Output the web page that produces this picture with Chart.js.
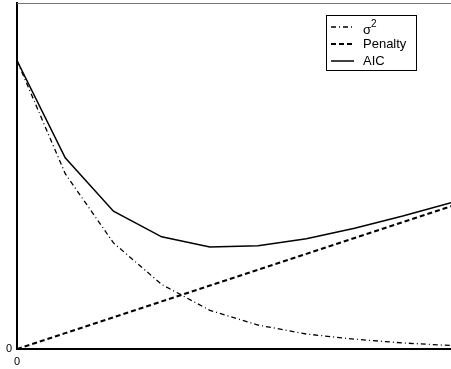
<!DOCTYPE html>
<html>
<head>
<meta charset="utf-8">
<script src="https://cdn.jsdelivr.net/npm/chart.js"></script>
<style>
  body { margin: 0; background: white; }
</style>
</head>
<body>
<canvas id="myChart" width="451" height="369"></canvas>
<script>
// model order on the x axis
var orders = [0, 1, 2, 3, 4, 5, 6, 7, 8, 9];
var sigma2 = [1.0, 0.608, 0.368, 0.224, 0.134, 0.083, 0.052, 0.034, 0.021, 0.012];
var penalty = [0, 0.055, 0.11, 0.165, 0.22, 0.275, 0.33, 0.385, 0.44, 0.495];
var aic = [1.0, 0.663, 0.478, 0.389, 0.354, 0.358, 0.382, 0.419, 0.461, 0.507];
var labels = ['σ²', 'Penalty', 'AIC'];
var xTicks = [0];
var yTicks = [0];

function pts(vals) {
    return vals.map(function (v, i) { return {x: orders[i], y: v}; });
}

var fontFam = '"Liberation Sans", Arial, sans-serif';

// legend in a box inside the plot, plus the thin frame line on top
var boxLegend = {
    id: 'boxLegend',
    afterDraw: function (chart) {
        var ctx = chart.ctx;
        var area = chart.chartArea;
        ctx.save();
        ctx.strokeStyle = '#777';
        ctx.lineWidth = 1;
        ctx.beginPath();
        ctx.moveTo(area.left, 3.5);
        ctx.lineTo(area.right, 3.5);
        ctx.stroke();

        ctx.fillStyle = 'white';
        ctx.fillRect(326.5, 15.5, 90, 55);
        ctx.strokeStyle = 'black';
        ctx.strokeRect(326.5, 15.5, 90, 55);

        ctx.textBaseline = 'middle';
        chart.data.datasets.forEach(function (ds, i) {
            var y = 27 + i * 17;
            ctx.setLineDash(ds.borderDash || []);
            ctx.lineWidth = ds.borderWidth;
            ctx.strokeStyle = 'black';
            ctx.beginPath();
            ctx.moveTo(331, y);
            ctx.lineTo(354, y);
            ctx.stroke();
            ctx.setLineDash([]);
            ctx.fillStyle = 'black';
            ctx.font = '13px ' + fontFam;
            var txt = ds.label;
            if (txt.slice(-1) === '²') {
                // draw the square as a real raised 2
                var base = txt.slice(0, -1);
                ctx.fillText(base, 363, y + 3);
                var w = ctx.measureText(base).width;
                ctx.font = '10px ' + fontFam;
                ctx.fillText('2', 363 + w, y - 3);
            } else {
                ctx.fillText(txt, 363, y);
            }
        });
        ctx.restore();
    }
};

function noPad(scale) {
    scale.paddingTop = 0;
    scale.paddingBottom = 0;
    scale.paddingLeft = 0;
    scale.paddingRight = 0;
}

var ctx = document.getElementById('myChart').getContext('2d');
var chart = new Chart(ctx, {
    type: 'line',
    data: {
        datasets: [{
            label: labels[0],
            data: pts(sigma2),
            borderColor: 'black',
            borderWidth: 1.3,
            borderDash: [5, 3, 1, 3]
        }, {
            label: labels[1],
            data: pts(penalty),
            borderColor: 'black',
            borderWidth: 2,
            borderDash: [5, 3]
        }, {
            label: labels[2],
            data: pts(aic),
            borderColor: 'black',
            borderWidth: 1.5
        }]
    },
    options: {
        responsive: false,
        animation: false,
        layout: { autoPadding: false, padding: { top: 3, right: 0, left: 0, bottom: 0 } },
        elements: { point: { radius: 0 }, line: { tension: 0 } },
        plugins: {
            legend: { display: false },
            tooltip: { enabled: false }
        },
        scales: {
            x: {
                type: 'linear',
                min: 0,
                max: 9,
                grid: { display: false, drawTicks: false },
                border: { display: true, color: 'black', width: 2 },
                ticks: {
                    padding: 6,
                    color: 'black',
                    font: { family: fontFam, size: 11 }
                },
                afterBuildTicks: function (scale) {
                    scale.ticks = xTicks.map(function (v) { return {value: v}; });
                },
                afterFit: function (scale) { scale.height = 20; noPad(scale); }
            },
            y: {
                min: 0,
                max: 1.2,
                grid: { display: false, drawTicks: false },
                border: { display: true, color: 'black', width: 2 },
                ticks: {
                    padding: 5,
                    color: 'black',
                    font: { family: fontFam, size: 11 }
                },
                afterBuildTicks: function (scale) {
                    scale.ticks = yTicks.map(function (v) { return {value: v}; });
                },
                afterFit: function (scale) { scale.width = 17; noPad(scale); }
            }
        }
    },
    plugins: [boxLegend]
});
</script>
</body>
</html>
